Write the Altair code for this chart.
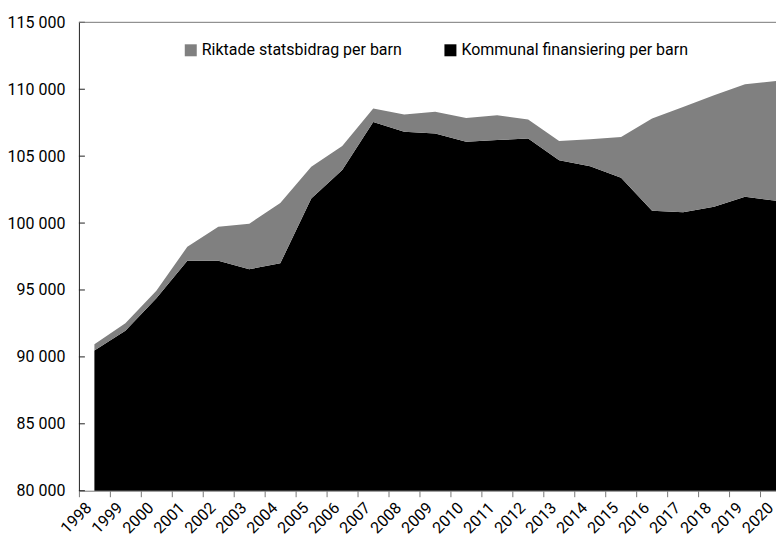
import altair as alt
import pandas as pd

years = list(range(1998, 2021))
kommunal = [90470, 91960, 94380, 97190, 97190, 96550, 96990, 101840, 103960, 107560,
            106820, 106690, 106070, 106200, 106320, 104700, 104250, 103380, 100920,
            100800, 101220, 101960, 101670]
riktade = [480, 560, 570, 1040, 2540, 3400, 4510, 2360, 1790, 1000, 1290, 1620, 1790,
           1860, 1420, 1440, 2020, 3060, 6890, 7880, 8330, 8410, 8950]
series_names = ["Riktade statsbidrag per barn", "Kommunal finansiering per barn"]
series_colors = ["#808080", "#000000"]
y_ticks = [80000, 85000, 90000, 95000, 100000, 105000, 110000, 115000]

rows = []
for i, yr in enumerate(years):
    rows.append({"year": yr, "serie": series_names[1], "value": kommunal[i], "ord": 0})
    rows.append({"year": yr, "serie": series_names[0], "value": riktade[i], "ord": 1})
df = pd.DataFrame(rows)

FONT = "Roboto"
FS = 16
W, H = 698, 469

x_scale = alt.Scale(domain=[1997.5, 2020], nice=False, zero=False)
y_scale = alt.Scale(domain=[80000, 115000], nice=False, zero=False)

area = alt.Chart(df).mark_area(clip=True, opacity=1).encode(
    x=alt.X("year:Q", scale=x_scale, title=None,
            axis=alt.Axis(values=[y - 0.5 for y in years],
                          labelExpr="format(datum.value + 0.5, 'd')",
                          labelAngle=315, labelAlign="center", labelBaseline="middle",
                          labelPadding=21, labelOffset=-3, tickSize=6, tickColor="#777777",
                          domainColor="#777777", grid=False, labelFont=FONT,
                          labelFontSize=FS, labelColor="#000000",
                          labelOverlap=False, labelBound=False, labelFlush=False)),
    y=alt.Y("value:Q", stack="zero", scale=y_scale, title=None,
            axis=alt.Axis(values=y_ticks,
                          labelExpr="replace(format(datum.value, ','), ',', ' ')",
                          ticks=False, tickSize=0, labelPadding=14, domainColor="#222222",
                          grid=False, labelFont=FONT, labelFontSize=FS,
                          labelColor="#000000", labelOverlap=False, labelFlush=False)),
    color=alt.Color("serie:N",
                    scale=alt.Scale(domain=series_names, range=series_colors),
                    legend=alt.Legend(title=None, orient="none", legendX=104, legendY=20,
                                      direction="horizontal", symbolType="square",
                                      symbolSize=144, symbolStrokeWidth=0,
                                      labelFont=FONT, labelFontSize=FS, labelLimit=0,
                                      labelOffset=3, columnPadding=40,
                                      labelColor="#000000")),
    order=alt.Order("ord:Q"),
)

tick_df = pd.DataFrame({"t": y_ticks})
ticks = alt.Chart(tick_df).mark_rule(color="#222222", strokeWidth=1).encode(
    y=alt.Y("t:Q", scale=y_scale),
    x=alt.value(0), x2=alt.value(6),
)

top = alt.Chart(pd.DataFrame({"t": [115000]})).mark_rule(color="#777777", strokeWidth=1).encode(
    y=alt.Y("t:Q", scale=y_scale),
    x=alt.value(0), x2=alt.value(W),
)

chart = alt.layer(area, ticks, top).properties(
    width=W, height=H,
    autosize=alt.AutoSizeParams(type="none"),
    padding={"left": 71, "top": 14, "right": 0, "bottom": 48},
).configure_view(stroke=None)

chart.save("out.html", embed_options={"renderer": "svg", "actions": False})
